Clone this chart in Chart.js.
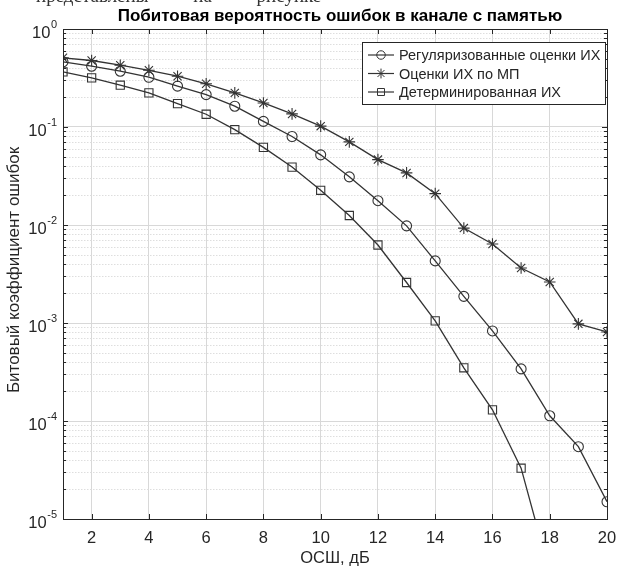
<!DOCTYPE html>
<html>
<head>
<meta charset="utf-8">
<script src="https://cdn.jsdelivr.net/npm/chart.js@4.4.0/dist/chart.umd.min.js"></script>
<style>
  html, body { margin: 0; padding: 0; background: #fff; }
  #wrap { position: relative; width: 619px; height: 566px; overflow: hidden; }
  #prevLine {
    position: absolute; left: 36px; top: -13px;
    font: 19px/18px "Liberation Serif", "Times New Roman", serif;
    color: #333; white-space: nowrap; word-spacing: 40px;
  }
</style>
</head>
<body>
<div id="wrap">
  <div id="prevLine">представлены на рисунке</div>
  <canvas id="berChart" width="619" height="566"></canvas>
</div>
<script>
// ОСШ, дБ
const snr = [1, 2, 3, 4, 5, 6, 7, 8, 9, 10, 11, 12, 13, 14, 15, 16, 17, 18, 19, 20];

// Регуляризованные оценки ИХ
const berReg = [0.462, 0.417, 0.371, 0.322, 0.261, 0.214, 0.163, 0.114, 0.080, 0.052,
                0.031, 0.0177, 0.0098, 0.0043, 0.00187, 0.00083, 0.00034, 0.000113, 0.0000547, 0.0000150];
// Оценки ИХ по МП
const berMl = [0.508, 0.477, 0.427, 0.379, 0.330, 0.276, 0.223, 0.176, 0.136, 0.102,
               0.0705, 0.0465, 0.034, 0.0209, 0.0093, 0.0064, 0.00364, 0.00262, 0.00098, 0.00081];
// Детерминированная ИХ
const berDet = [0.365, 0.317, 0.267, 0.223, 0.173, 0.135, 0.094, 0.062, 0.039, 0.0226,
                0.0125, 0.00625, 0.00259, 0.00105, 0.000349, 0.000130, 0.000033, 0.0000028, null, null];

const seriesNames = ['Регуляризованные оценки ИХ', 'Оценки ИХ по МП', 'Детерминированная ИХ'];
const xTicks = [2, 4, 6, 8, 10, 12, 14, 16, 18, 20];
const yDecades = [-5, -4, -3, -2, -1, 0];

const titleText = 'Побитовая вероятность ошибок в канале с памятью';
const xTitle = 'ОСШ, дБ';
const yTitle = 'Битовый коэффициент ошибок';

const LINE = '#333333';
const AXIS = '#262626';
const FONT = '"Liberation Sans", Arial, sans-serif';

function toPoints(arr) {
  return snr.map((x, i) => ({ x: x, y: arr[i] }));
}

function seg(ctx, x1, y1, x2, y2) {
  ctx.beginPath();
  ctx.moveTo(x1, y1);
  ctx.lineTo(x2, y2);
  ctx.stroke();
}

// MATLAB-like box, minor grid, ticks, labels and legend
const matlabAxes = {
  id: 'matlabAxes',
  beforeDatasetsDraw(chart) {
    const { ctx, chartArea: a, scales: { y } } = chart;
    ctx.save();
    ctx.strokeStyle = '#dedede';
    ctx.lineWidth = 1;
    ctx.setLineDash([1.5, 1.5]);
    yDecades.forEach(d => {
      if (d >= 0) return;
      for (let m = 2; m <= 9; m++) {
        const py = Math.round(y.getPixelForValue(m * Math.pow(10, d))) + 0.5;
        seg(ctx, a.left, py, a.right, py);
      }
    });
    ctx.restore();
  },
  afterDatasetsDraw(chart) {
    const { ctx, chartArea: a, scales: { x, y } } = chart;
    ctx.save();

    // axes box
    ctx.strokeStyle = AXIS;
    ctx.lineWidth = 1;
    ctx.strokeRect(Math.round(a.left) + 0.5, Math.round(a.top) + 0.5,
                   Math.round(a.right - a.left), Math.round(a.bottom - a.top));

    // tick marks
    xTicks.forEach(v => {
      const px = Math.round(x.getPixelForValue(v)) + 0.5;
      seg(ctx, px, a.bottom, px, a.bottom - 5);
      seg(ctx, px, a.top, px, a.top + 5);
    });
    yDecades.forEach(d => {
      const py = Math.round(y.getPixelForValue(Math.pow(10, d))) + 0.5;
      seg(ctx, a.left, py, a.left + 5, py);
      seg(ctx, a.right, py, a.right - 5, py);
      if (d >= 0) return;
      for (let m = 2; m <= 9; m++) {
        const pm = Math.round(y.getPixelForValue(m * Math.pow(10, d))) + 0.5;
        seg(ctx, a.left, pm, a.left + 3, pm);
        seg(ctx, a.right, pm, a.right - 3, pm);
      }
    });

    // tick labels
    ctx.fillStyle = AXIS;
    ctx.textAlign = 'center';
    ctx.textBaseline = 'alphabetic';
    ctx.font = '16.5px ' + FONT;
    xTicks.forEach(v => {
      ctx.fillText(String(v), x.getPixelForValue(v), a.bottom + 24);
    });
    yDecades.forEach(d => {
      const py = y.getPixelForValue(Math.pow(10, d));
      const exp = d === 0 ? '0' : '-' + (-d);
      ctx.font = '11px ' + FONT;
      const we = ctx.measureText(exp).width;
      const right = a.left - 6;
      ctx.textAlign = 'left';
      ctx.fillText(exp, right - we, py - 1);
      ctx.font = '16.5px ' + FONT;
      ctx.textAlign = 'right';
      ctx.fillText('10', right - we - 0.5, py + 9);
    });

    // axis titles and chart title
    ctx.textAlign = 'center';
    ctx.font = '16.5px ' + FONT;
    ctx.fillText(xTitle, (a.left + a.right) / 2, 563);
    ctx.save();
    ctx.translate(19, 270);
    ctx.rotate(-Math.PI / 2);
    ctx.font = '17px ' + FONT;
    ctx.fillText(yTitle, 0, 0);
    ctx.restore();
    ctx.fillStyle = '#000';
    ctx.font = 'bold 17px ' + FONT;
    ctx.fillText(titleText, (a.left + a.right) / 2 + 5, 21);

    // legend
    const lx = 362, ly = 42, lw = 243, lh = 62;
    ctx.fillStyle = '#fff';
    ctx.fillRect(lx, ly, lw, lh);
    ctx.strokeStyle = AXIS;
    ctx.strokeRect(lx + 0.5, ly + 0.5, lw, lh);
    ctx.font = '14.5px ' + FONT;
    ctx.textAlign = 'left';
    chart.data.datasets.forEach((ds, i) => {
      const ry = ly + 13 + i * 18.5;
      ctx.strokeStyle = LINE;
      ctx.lineWidth = 1.2;
      seg(ctx, lx + 6, ry, lx + 32, ry);
      ctx.fillStyle = 'rgba(0,0,0,0)';
      ctx.lineWidth = 1;
      Chart.helpers.drawPoint(ctx, {
        pointStyle: ds.pointStyle, radius: ds.pointRadius * 0.85, borderWidth: 1
      }, lx + 19, ry);
      ctx.fillStyle = AXIS;
      ctx.fillText(ds.label, lx + 37, ry + 5);
    });

    ctx.restore();
  }
};

const common = {
  borderColor: LINE,
  borderWidth: 1.3,
  pointBorderColor: LINE,
  pointBackgroundColor: 'rgba(0,0,0,0)',
  pointBorderWidth: 1.1,
  spanGaps: false,
  tension: 0
};

new Chart(document.getElementById('berChart'), {
  type: 'line',
  data: {
    datasets: [
      Object.assign({ label: seriesNames[0], data: toPoints(berReg), pointStyle: 'circle', pointRadius: 5 }, common),
      Object.assign({ label: seriesNames[1], data: toPoints(berMl), pointStyle: 'star', pointRadius: 5.8 }, common),
      Object.assign({ label: seriesNames[2], data: toPoints(berDet), pointStyle: 'rect', pointRadius: 5.8 }, common)
    ]
  },
  options: {
    responsive: false,
    animation: false,
    devicePixelRatio: 1,
    layout: { padding: { top: 29, right: 12, left: 0, bottom: 0 } },
    plugins: { legend: { display: false }, title: { display: false }, tooltip: { enabled: false } },
    scales: {
      x: {
        type: 'linear', min: 1, max: 20,
        afterBuildTicks: s => { s.ticks = xTicks.map(v => ({ value: v })); },
        afterFit: s => { s.height = 47; },
        ticks: { display: false },
        grid: { color: '#d8d8d8', drawTicks: false },
        border: { display: false }
      },
      y: {
        type: 'logarithmic', min: 1e-5, max: 1,
        afterBuildTicks: s => { s.ticks = yDecades.map(d => ({ value: Math.pow(10, d) })); },
        afterFit: s => { s.width = 63; },
        ticks: { display: false },
        grid: { color: '#d8d8d8', drawTicks: false },
        border: { display: false }
      }
    }
  },
  plugins: [matlabAxes]
});
</script>
</body>
</html>
